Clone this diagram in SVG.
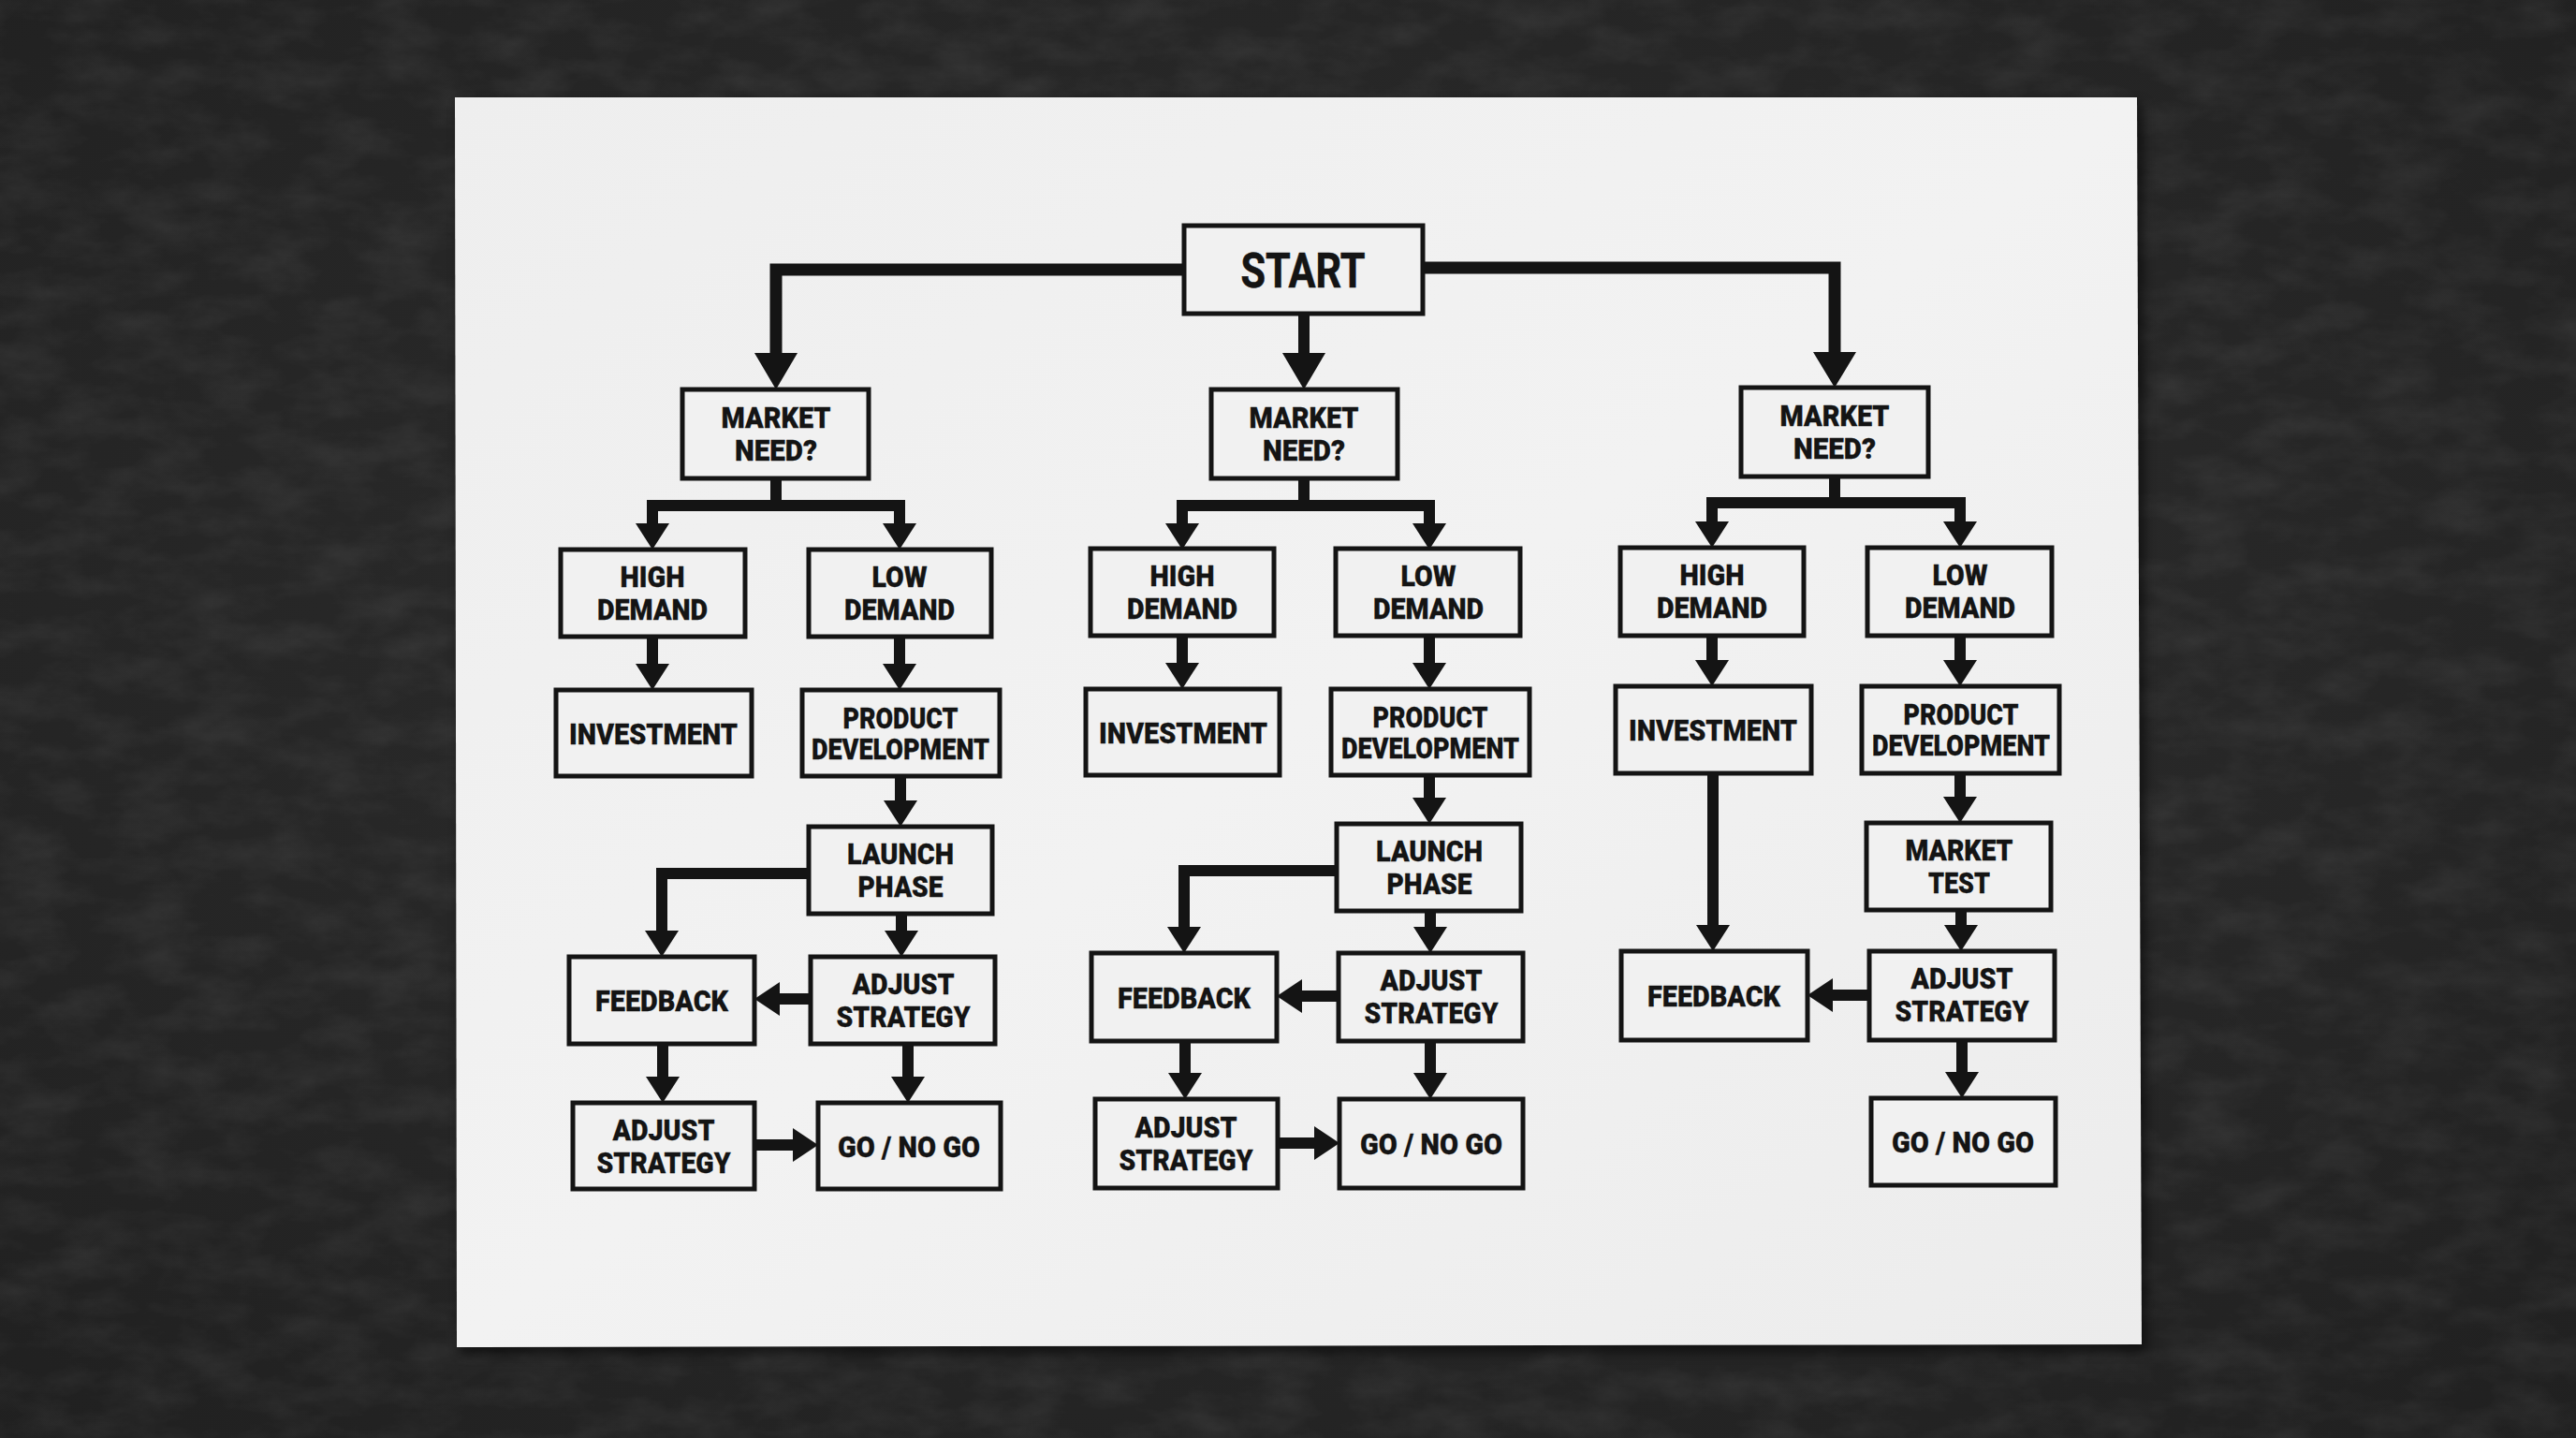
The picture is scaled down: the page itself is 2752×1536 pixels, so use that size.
<svg xmlns="http://www.w3.org/2000/svg" width="2752" height="1536" viewBox="0 0 2752 1536">
<defs>
<radialGradient id="bg" cx="50%" cy="45%" r="75%">
<stop offset="0" stop-color="#2e2e2e"/>
<stop offset="1" stop-color="#202020"/>
</radialGradient>
<filter id="noise" x="0" y="0" width="100%" height="100%">
<feTurbulence type="fractalNoise" baseFrequency="0.015 0.03" numOctaves="5" seed="11"/>
<feColorMatrix type="matrix" values="0 0 0 0 0.55  0 0 0 0 0.55  0 0 0 0 0.55  0 0 0 0.7 -0.25"/>
</filter>
<filter id="shadow" x="-5%" y="-5%" width="110%" height="110%">
<feGaussianBlur stdDeviation="6"/>
</filter>
<linearGradient id="paper" x1="0" y1="0" x2="1" y2="1">
<stop offset="0" stop-color="#eeeeee"/>
<stop offset="0.5" stop-color="#f2f2f2"/>
<stop offset="1" stop-color="#ececec"/>
</linearGradient>
<style>
.box{fill:#f1f1f1;stroke:#141414;stroke-width:5}
.t{font-family:Roboto,"Liberation Sans",sans-serif;font-weight:900;font-size:32px;fill:#141414;stroke:#141414;stroke-width:0.3px;text-anchor:middle}
.ts{font-family:Roboto,"Liberation Sans",sans-serif;font-weight:700;font-size:52px;fill:#141414;stroke:#141414;stroke-width:0.6px;text-anchor:middle}
.ln{fill:none;stroke:#141414;stroke-width:12;stroke-linejoin:miter;stroke-linecap:butt}
.lm{fill:none;stroke:#141414;stroke-width:13;stroke-linejoin:miter;stroke-linecap:butt}
.hd{fill:#141414}
</style>
</defs>
<rect width="2752" height="1536" fill="url(#bg)"/>
<rect width="2752" height="1536" filter="url(#noise)" opacity="0.22"/>
<polygon points="490,110 2290,110 2294,1444 492,1447" fill="#000" opacity="0.5" filter="url(#shadow)"/>
<polygon points="486,104 2283,104 2288,1436 488,1439" fill="url(#paper)"/>

<g id="connectors">
<!-- START -->
<polyline class="lm" points="1265,288 829,288 829,380"/>
<polygon class="hd" points="806,377 852,377 829,416"/>
<polyline class="lm" points="1520,286 1960,286 1960,379"/>
<polygon class="hd" points="1937,376 1983,376 1960,414"/>
<line class="ln" x1="1393" y1="335" x2="1393" y2="380"/>
<polygon class="hd" points="1370,377 1416,377 1393,416"/>

<!-- Left column -->
<line class="ln" x1="829" y1="511" x2="829" y2="540"/>
<polyline class="ln" points="697,563 697,540 961,540 961,563"/>
<polygon class="hd" points="679,559 715,559 697,587"/>
<polygon class="hd" points="943,559 979,559 961,587"/>
<line class="ln" x1="697" y1="680" x2="697" y2="712"/>
<polygon class="hd" points="679,709 715,709 697,737"/>
<line class="ln" x1="961" y1="680" x2="961" y2="712"/>
<polygon class="hd" points="943,709 979,709 961,737"/>
<line class="ln" x1="962" y1="829" x2="962" y2="858"/>
<polygon class="hd" points="944,855 980,855 962,883"/>
<polyline class="ln" points="864,933 707,933 707,998"/>
<polygon class="hd" points="689,994 725,994 707,1022"/>
<line class="ln" x1="963" y1="976" x2="963" y2="998"/>
<polygon class="hd" points="945,994 981,994 963,1022"/>
<line class="ln" x1="866" y1="1067" x2="830" y2="1067"/>
<polygon class="hd" points="833,1049 833,1085 806,1067"/>
<line class="ln" x1="708" y1="1115" x2="708" y2="1154"/>
<polygon class="hd" points="690,1150 726,1150 708,1178"/>
<line class="ln" x1="970" y1="1115" x2="970" y2="1154"/>
<polygon class="hd" points="952,1150 988,1150 970,1178"/>
<line class="ln" x1="806" y1="1223" x2="850" y2="1223"/>
<polygon class="hd" points="847,1205 847,1241 874,1223"/>

<!-- Middle column -->
<line class="ln" x1="1393" y1="511" x2="1393" y2="540"/>
<polyline class="ln" points="1263,563 1263,540 1527,540 1527,563"/>
<polygon class="hd" points="1245,559 1281,559 1263,587"/>
<polygon class="hd" points="1509,559 1545,559 1527,587"/>
<line class="ln" x1="1263" y1="679" x2="1263" y2="711"/>
<polygon class="hd" points="1245,708 1281,708 1263,736"/>
<line class="ln" x1="1527" y1="679" x2="1527" y2="711"/>
<polygon class="hd" points="1509,708 1545,708 1527,736"/>
<line class="ln" x1="1527" y1="828" x2="1527" y2="855"/>
<polygon class="hd" points="1509,852 1545,852 1527,880"/>
<polyline class="ln" points="1428,930 1265,930 1265,994"/>
<polygon class="hd" points="1247,990 1283,990 1265,1018"/>
<line class="ln" x1="1528" y1="973" x2="1528" y2="994"/>
<polygon class="hd" points="1510,990 1546,990 1528,1018"/>
<line class="ln" x1="1430" y1="1064" x2="1388" y2="1064"/>
<polygon class="hd" points="1391,1046 1391,1082 1364,1064"/>
<line class="ln" x1="1266" y1="1112" x2="1266" y2="1150"/>
<polygon class="hd" points="1248,1146 1284,1146 1266,1174"/>
<line class="ln" x1="1528" y1="1112" x2="1528" y2="1150"/>
<polygon class="hd" points="1510,1146 1546,1146 1528,1174"/>
<line class="ln" x1="1365" y1="1221" x2="1407" y2="1221"/>
<polygon class="hd" points="1404,1203 1404,1239 1431,1221"/>

<!-- Right column -->
<line class="ln" x1="1960" y1="509" x2="1960" y2="537"/>
<polyline class="ln" points="1829,561 1829,537 2094,537 2094,561"/>
<polygon class="hd" points="1811,557 1847,557 1829,585"/>
<polygon class="hd" points="2076,557 2112,557 2094,585"/>
<line class="ln" x1="1829" y1="679" x2="1829" y2="708"/>
<polygon class="hd" points="1811,705 1847,705 1829,733"/>
<line class="ln" x1="2094" y1="679" x2="2094" y2="708"/>
<polygon class="hd" points="2076,705 2112,705 2094,733"/>
<line class="ln" x1="2094" y1="826" x2="2094" y2="854"/>
<polygon class="hd" points="2076,851 2112,851 2094,879"/>
<line class="ln" x1="1830" y1="826" x2="1830" y2="992"/>
<polygon class="hd" points="1812,988 1848,988 1830,1016"/>
<line class="ln" x1="2095" y1="972" x2="2095" y2="992"/>
<polygon class="hd" points="2077,988 2113,988 2095,1016"/>
<line class="ln" x1="1997" y1="1063" x2="1955" y2="1063"/>
<polygon class="hd" points="1958,1045 1958,1081 1931,1063"/>
<line class="ln" x1="2096" y1="1111" x2="2096" y2="1149"/>
<polygon class="hd" points="2078,1145 2114,1145 2096,1173"/>
</g>

<g id="start"><rect class="box" x="1265" y="241" width="255" height="94"/><text class="ts" x="1392" y="307" textLength="133" lengthAdjust="spacingAndGlyphs">START</text></g>

<!-- Left column nodes -->
<g id="l-market"><rect class="box" x="729" y="416" width="199" height="95"/><text class="t" x="829" y="457" textLength="117" lengthAdjust="spacingAndGlyphs">MARKET</text><text class="t" x="829" y="492" textLength="88" lengthAdjust="spacingAndGlyphs">NEED?</text></g>
<g id="l-high"><rect class="box" x="599" y="587" width="197" height="93"/><text class="t" x="697" y="627" textLength="69" lengthAdjust="spacingAndGlyphs">HIGH</text><text class="t" x="697" y="662" textLength="118" lengthAdjust="spacingAndGlyphs">DEMAND</text></g>
<g id="l-low"><rect class="box" x="864" y="587" width="195" height="93"/><text class="t" x="961" y="627" textLength="59" lengthAdjust="spacingAndGlyphs">LOW</text><text class="t" x="961" y="662" textLength="118" lengthAdjust="spacingAndGlyphs">DEMAND</text></g>
<g id="l-invest"><rect class="box" x="594" y="737" width="209" height="92"/><text class="t" x="698" y="795" textLength="180" lengthAdjust="spacingAndGlyphs">INVESTMENT</text></g>
<g id="l-product"><rect class="box" x="857" y="737" width="211" height="92"/><text class="t" x="962" y="778" textLength="123" lengthAdjust="spacingAndGlyphs">PRODUCT</text><text class="t" x="962" y="811" textLength="190" lengthAdjust="spacingAndGlyphs">DEVELOPMENT</text></g>
<g id="l-launch"><rect class="box" x="864" y="883" width="196" height="93"/><text class="t" x="962" y="923" textLength="114" lengthAdjust="spacingAndGlyphs">LAUNCH</text><text class="t" x="962" y="958" textLength="91" lengthAdjust="spacingAndGlyphs">PHASE</text></g>
<g id="l-feedback"><rect class="box" x="608" y="1022" width="198" height="93"/><text class="t" x="707" y="1080" textLength="142" lengthAdjust="spacingAndGlyphs">FEEDBACK</text></g>
<g id="l-adjust1"><rect class="box" x="866" y="1022" width="197" height="93"/><text class="t" x="965" y="1062" textLength="109" lengthAdjust="spacingAndGlyphs">ADJUST</text><text class="t" x="965" y="1097" textLength="143" lengthAdjust="spacingAndGlyphs">STRATEGY</text></g>
<g id="l-adjust2"><rect class="box" x="612" y="1178" width="194" height="92"/><text class="t" x="709" y="1218" textLength="109" lengthAdjust="spacingAndGlyphs">ADJUST</text><text class="t" x="709" y="1253" textLength="143" lengthAdjust="spacingAndGlyphs">STRATEGY</text></g>
<g id="l-go"><rect class="box" x="874" y="1178" width="195" height="92"/><text class="t" x="971" y="1236" textLength="152" lengthAdjust="spacingAndGlyphs">GO / NO GO</text></g>

<!-- Middle column nodes -->
<g id="m-market"><rect class="box" x="1294" y="416" width="199" height="95"/><text class="t" x="1393" y="457" textLength="117" lengthAdjust="spacingAndGlyphs">MARKET</text><text class="t" x="1393" y="492" textLength="88" lengthAdjust="spacingAndGlyphs">NEED?</text></g>
<g id="m-high"><rect class="box" x="1165" y="586" width="196" height="93"/><text class="t" x="1263" y="626" textLength="69" lengthAdjust="spacingAndGlyphs">HIGH</text><text class="t" x="1263" y="661" textLength="118" lengthAdjust="spacingAndGlyphs">DEMAND</text></g>
<g id="m-low"><rect class="box" x="1427" y="586" width="197" height="93"/><text class="t" x="1526" y="626" textLength="59" lengthAdjust="spacingAndGlyphs">LOW</text><text class="t" x="1526" y="661" textLength="118" lengthAdjust="spacingAndGlyphs">DEMAND</text></g>
<g id="m-invest"><rect class="box" x="1160" y="736" width="207" height="92"/><text class="t" x="1264" y="794" textLength="180" lengthAdjust="spacingAndGlyphs">INVESTMENT</text></g>
<g id="m-product"><rect class="box" x="1422" y="736" width="212" height="92"/><text class="t" x="1528" y="777" textLength="123" lengthAdjust="spacingAndGlyphs">PRODUCT</text><text class="t" x="1528" y="810" textLength="190" lengthAdjust="spacingAndGlyphs">DEVELOPMENT</text></g>
<g id="m-launch"><rect class="box" x="1428" y="880" width="197" height="93"/><text class="t" x="1527" y="920" textLength="114" lengthAdjust="spacingAndGlyphs">LAUNCH</text><text class="t" x="1527" y="955" textLength="91" lengthAdjust="spacingAndGlyphs">PHASE</text></g>
<g id="m-feedback"><rect class="box" x="1166" y="1018" width="198" height="94"/><text class="t" x="1265" y="1077" textLength="142" lengthAdjust="spacingAndGlyphs">FEEDBACK</text></g>
<g id="m-adjust1"><rect class="box" x="1430" y="1018" width="197" height="94"/><text class="t" x="1529" y="1058" textLength="109" lengthAdjust="spacingAndGlyphs">ADJUST</text><text class="t" x="1529" y="1093" textLength="143" lengthAdjust="spacingAndGlyphs">STRATEGY</text></g>
<g id="m-adjust2"><rect class="box" x="1170" y="1174" width="195" height="95"/><text class="t" x="1267" y="1215" textLength="109" lengthAdjust="spacingAndGlyphs">ADJUST</text><text class="t" x="1267" y="1250" textLength="143" lengthAdjust="spacingAndGlyphs">STRATEGY</text></g>
<g id="m-go"><rect class="box" x="1431" y="1174" width="196" height="95"/><text class="t" x="1529" y="1233" textLength="152" lengthAdjust="spacingAndGlyphs">GO / NO GO</text></g>

<!-- Right column nodes -->
<g id="r-market"><rect class="box" x="1860" y="414" width="200" height="95"/><text class="t" x="1960" y="455" textLength="117" lengthAdjust="spacingAndGlyphs">MARKET</text><text class="t" x="1960" y="490" textLength="88" lengthAdjust="spacingAndGlyphs">NEED?</text></g>
<g id="r-high"><rect class="box" x="1731" y="585" width="196" height="94"/><text class="t" x="1829" y="625" textLength="69" lengthAdjust="spacingAndGlyphs">HIGH</text><text class="t" x="1829" y="660" textLength="118" lengthAdjust="spacingAndGlyphs">DEMAND</text></g>
<g id="r-low"><rect class="box" x="1995" y="585" width="197" height="94"/><text class="t" x="2094" y="625" textLength="59" lengthAdjust="spacingAndGlyphs">LOW</text><text class="t" x="2094" y="660" textLength="118" lengthAdjust="spacingAndGlyphs">DEMAND</text></g>
<g id="r-invest"><rect class="box" x="1726" y="733" width="209" height="93"/><text class="t" x="1830" y="791" textLength="180" lengthAdjust="spacingAndGlyphs">INVESTMENT</text></g>
<g id="r-product"><rect class="box" x="1989" y="733" width="211" height="93"/><text class="t" x="2095" y="774" textLength="123" lengthAdjust="spacingAndGlyphs">PRODUCT</text><text class="t" x="2095" y="807" textLength="190" lengthAdjust="spacingAndGlyphs">DEVELOPMENT</text></g>
<g id="r-test"><rect class="box" x="1994" y="879" width="197" height="93"/><text class="t" x="2093" y="919" textLength="115" lengthAdjust="spacingAndGlyphs">MARKET</text><text class="t" x="2093" y="954" textLength="66" lengthAdjust="spacingAndGlyphs">TEST</text></g>
<g id="r-feedback"><rect class="box" x="1732" y="1016" width="199" height="95"/><text class="t" x="1831" y="1075" textLength="142" lengthAdjust="spacingAndGlyphs">FEEDBACK</text></g>
<g id="r-adjust"><rect class="box" x="1997" y="1016" width="198" height="95"/><text class="t" x="2096" y="1056" textLength="109" lengthAdjust="spacingAndGlyphs">ADJUST</text><text class="t" x="2096" y="1091" textLength="143" lengthAdjust="spacingAndGlyphs">STRATEGY</text></g>
<g id="r-go"><rect class="box" x="1999" y="1173" width="197" height="93"/><text class="t" x="2097" y="1231" textLength="152" lengthAdjust="spacingAndGlyphs">GO / NO GO</text></g>
</svg>
